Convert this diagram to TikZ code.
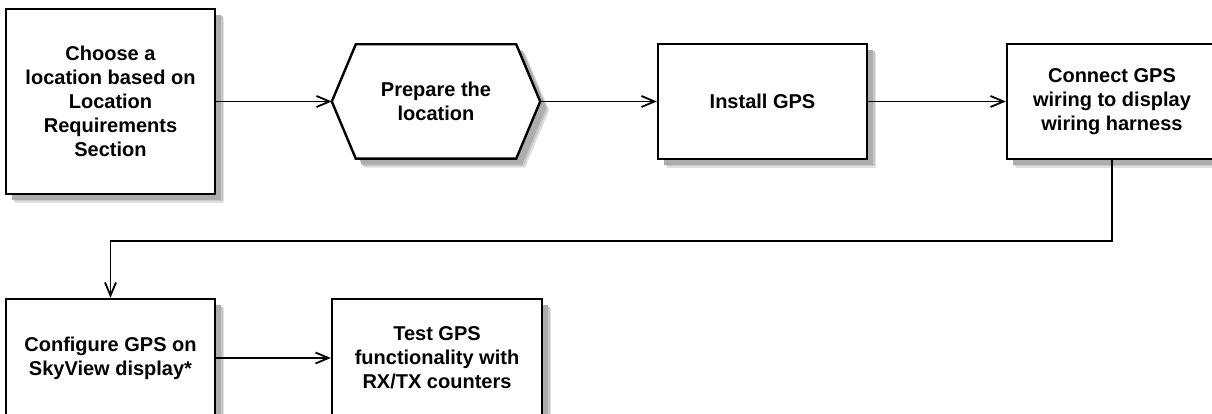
\documentclass[tikz,border=0pt]{standalone}
\usepackage{fontspec}
\setmainfont{Liberation Sans}
\usetikzlibrary{arrows.meta,backgrounds,calc}
\begin{document}
\begin{tikzpicture}[x=1pt,y=-1pt,
  softshadow/.style={
    preaction={fill=black!12,draw=none,transform canvas={xshift=9pt,yshift=-9pt}},
    preaction={fill=black!22,draw=none,transform canvas={xshift=7.5pt,yshift=-7.5pt}},
    preaction={fill=black!32,draw=none,transform canvas={xshift=6pt,yshift=-6pt}}},
  stepbox/.style={draw=black,line width=2.4pt,fill=white,softshadow,
    font=\fontsize{20}{24}\selectfont\bfseries,align=center,inner sep=0pt},
  hexlabel/.style={draw=none,font=\fontsize{20}{24}\selectfont\bfseries,align=center,inner sep=0pt},
  conn/.style={line width=1.8pt,-{Straight Barb[length=13pt,width=11pt,line width=1.8pt]}}
]
\useasboundingbox (0,0) rectangle (1212,414);

\node[stepbox,minimum width=209pt,minimum height=185pt] (b1) at (110.5,101.5)
  {Choose a\\location based on\\Location\\Requirements\\Section};

\node[hexlabel,minimum width=208pt,minimum height=114pt] (hex) at (436,101.5)
  {Prepare the\\location};
\begin{pgfonlayer}{background}
\draw[line width=2.4pt,fill=white,softshadow,line join=miter]
  (hex.west) -- ([xshift=24pt]hex.north west) -- ([xshift=-24pt]hex.north east)
  -- (hex.east) -- ([xshift=-24pt]hex.south east) -- ([xshift=24pt]hex.south west) -- cycle;
\end{pgfonlayer}

\node[stepbox,minimum width=209pt,minimum height=115pt] (inst) at (762.5,101.5)
  {Install GPS};

\node[stepbox,minimum width=210pt,minimum height=115pt] (wire) at (1112,101.5)
  {Connect GPS\\wiring to display\\wiring harness};

\node[stepbox,minimum width=209pt,minimum height=118pt] (cfg) at (110.5,358)
  {Configure GPS on\\SkyView display*};

\node[stepbox,minimum width=210pt,minimum height=118pt] (test) at (437,358)
  {Test GPS\\functionality with\\RX/TX counters};

\coordinate (turn) at (1112,241);

\draw[conn] (b1.east |- hex.west) -- (hex.west);
\draw[conn] (hex.east) -- (inst.west);
\draw[conn] (inst.east) -- (wire.west);
\draw[conn] (wire.south) -- (turn) -| (cfg.north);
\draw[conn] (cfg.east) -- (test.west);
\end{tikzpicture}
\end{document}
